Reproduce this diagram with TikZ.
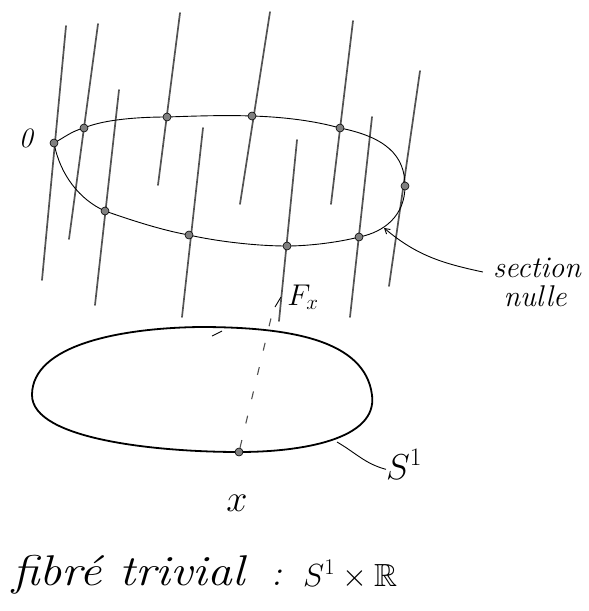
\RequirePackage{fix-cm}
\documentclass[tikz,border=0pt]{standalone}
\usepackage{fontspec}
\usepackage{amsmath, amssymb}
\usepackage{tikz}
\usetikzlibrary{arrows.meta}
\colorlet{colFibre}{black!68}
\colorlet{colDot}{black!50}
\tikzset{
  fibre/.style={colFibre, line width=1.7pt, line cap=round},
  secline/.style={black, line width=0.9pt},
  baseline/.style={black, line width=1.8pt},
  hand/.style={inner sep=0pt, font=\itshape\fontsize{#1}{#1}\selectfont},
  ptdot/.style={circle, fill=colDot, draw=black, line width=0.6pt, inner sep=0pt, minimum size=8pt},
}

\begin{document}
\begin{tikzpicture}[x=1pt, y=-1pt]
  \useasboundingbox (0,0) rectangle (589,611);
  % Fibres
  \foreach \xa/\ya/\xb/\yb in {66/26/42/280, 98/24/69/239, 119/90/95/305, 180/13/158/185,
      203/128/182/317, 270/12/240/204, 297/140/279/321, 353/21/331/204,
      372/117/350/317, 420/71/389/286}
    \draw[fibre] (\xa,\ya) -- (\xb,\yb);
  % Points of the zero section
  \coordinate (z0) at (54,143);
  \coordinate (z1) at (84,128);
  \coordinate (z2) at (105,211);
  \coordinate (z3) at (167,117);
  \coordinate (z4) at (189,235);
  \coordinate (z5) at (252,116);
  \coordinate (z6) at (287,246);
  \coordinate (z7) at (340,128);
  \coordinate (z8) at (359,237);
  \coordinate (z9) at (405,186);
  \coordinate (secTip) at (384,228);
  % Zero section
  \draw[secline] (z0) .. controls (65,137) and (72,131) .. (z1)
      .. controls (100,121) and (130,117) .. (z3)
      .. controls (195,116) and (225,115) .. (z5)
      .. controls (285,117) and (315,121) .. (z7)
      .. controls (385,137) and (405,155) .. (z9)
      .. controls (405,215) and (385,232) .. (z8)
      .. controls (340,242) and (310,246) .. (z6)
      .. controls (255,246) and (215,241) .. (z4)
      .. controls (160,230) and (125,218) .. (z2)
      .. controls (80,200) and (60,175) .. (z0);
  \foreach \p in {z0,z1,z2,z3,z4,z5,z6,z7,z8,z9}
    \node[ptdot] at (\p) {};
  \node[hand=28pt] (zero) at (26,138) {0};
  % Label of the zero section
  \node[hand=30pt] (sec) at (537,268) {section};
  \node[hand=30pt] (nul) at (535,296) {nulle};
  \draw[secline, -{Straight Barb[length=5pt, width=6pt]}] ([xshift=-10pt, yshift=-4pt]sec.west)
      to[out=168, in=-40] (secTip);
  % Base circle
  \draw[baseline] (32,395) .. controls (32,345) and (120,328) .. (200,327)
      .. controls (290,327) and (365,340) .. (372,395)
      .. controls (378,440) and (300,452) .. (239,452)
      .. controls (160,452) and (32,440) .. cycle;
  \draw[secline] (212,336) -- (222,331);
  \coordinate (baseR) at (337,442);
  \node[hand=36pt, anchor=base west] (lblS) at (386,479) {$S^1$};
  \draw[secline] (baseR) to[out=-30, in=165] ([yshift=-5pt]lblS.west);
  % Fibre over x
  \node[ptdot] (xdot) at (239,452) {};
  \coordinate (fxTop) at (272,314);
  \draw[colFibre, line width=1.1pt, dash pattern=on 8pt off 17pt] (xdot) -- (fxTop);
  \node[hand=30pt] (fx) at (303,297) {$F_x$};
  \draw[secline] (275,307) -- (281,297);
  \node[hand=38pt] (xlbl) at (237,503) {$x$};
  % Caption
  \node[hand=43pt, anchor=base west] (capt) at (12,585) {\scalebox{1.15}[1]{fibré trivial}};
  \node[hand=36pt, anchor=base] (colon) at (277,585) {:};
  \node[hand=32pt, anchor=base west] (prod) at (303,586) {$S^1\times\mathbb{R}$};
\end{tikzpicture}
\end{document}
